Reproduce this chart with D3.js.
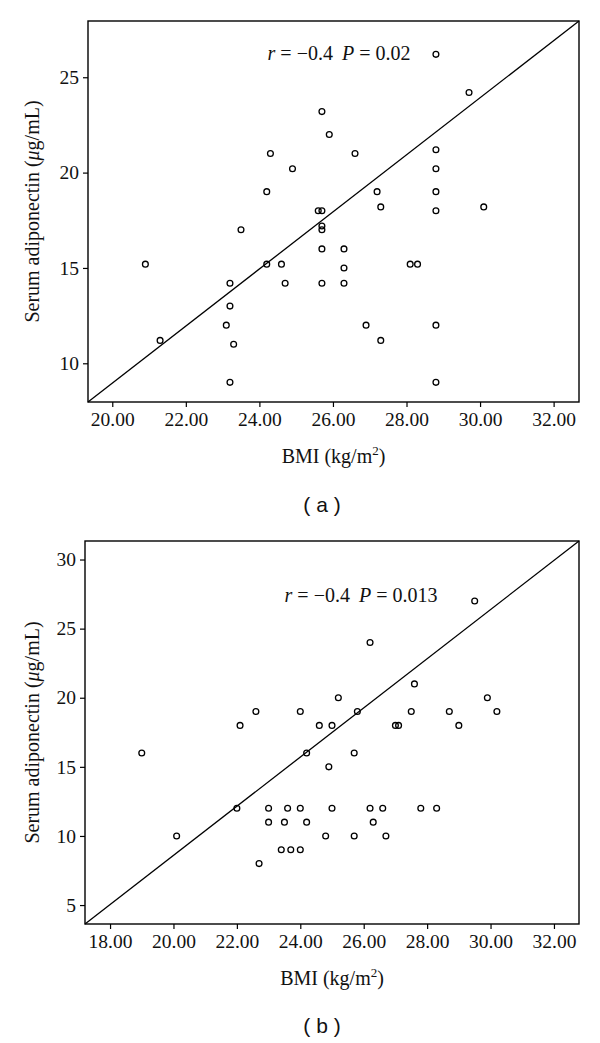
<!DOCTYPE html>
<html>
<head>
<meta charset="utf-8">
<script src="https://cdn.jsdelivr.net/npm/d3@7/dist/d3.min.js"></script>
<style>
  html, body { margin: 0; padding: 0; background: #fff; }
  svg { display: block; }
</style>
</head>
<body>
<svg id="chart" width="600" height="1043"></svg>
<script>
// ---- Panel (a) data ----
const bmiA = [28.8, 29.7, 25.7, 25.9, 24.3, 26.6, 28.8, 24.9, 28.8, 24.2, 27.2, 28.8,
  27.3, 30.1, 28.8, 25.6, 25.7, 23.5, 25.7, 25.7, 25.7, 26.3, 20.9, 24.2, 24.6,
  28.1, 28.3, 26.3, 23.2, 24.7, 25.7, 26.3, 23.2, 23.1, 26.9, 28.8, 21.3, 27.3,
  23.3, 23.2, 28.8];
const adipoA = [26.2, 24.2, 23.2, 22.0, 21.0, 21.0, 21.2, 20.2, 20.2, 19.0, 19.0, 19.0,
  18.2, 18.2, 18.0, 18.0, 18.0, 17.0, 17.2, 17.0, 16.0, 16.0, 15.2, 15.2, 15.2,
  15.2, 15.2, 15.0, 14.2, 14.2, 14.2, 14.2, 13.0, 12.0, 12.0, 12.0, 11.2, 11.2,
  11.0, 9.0, 9.0];
const xTicksA = [20, 22, 24, 26, 28, 30, 32];
const yTicksA = [10, 15, 20, 25];
const xDomainA = [19.34, 32.69];
const yDomainA = [7.97, 27.95];
const statA = { r: "\u22120.4", p: "0.02" };

// ---- Panel (b) data ----
const bmiB = [29.5, 26.2, 27.6, 25.2, 29.9, 22.6, 24.0, 25.8, 27.5, 28.7, 30.2,
  22.1, 24.6, 25.0, 27.0, 27.1, 29.0, 19.0, 24.2, 25.7, 24.9,
  22.0, 23.0, 23.6, 24.0, 25.0, 26.2, 26.6, 27.8, 28.3,
  23.0, 23.5, 24.2, 26.3, 20.1, 24.8, 25.7, 26.7, 23.4, 23.7, 24.0, 22.7];
const adipoB = [27.0, 24.0, 21.0, 20.0, 20.0, 19.0, 19.0, 19.0, 19.0, 19.0, 19.0,
  18.0, 18.0, 18.0, 18.0, 18.0, 18.0, 16.0, 16.0, 16.0, 15.0,
  12.0, 12.0, 12.0, 12.0, 12.0, 12.0, 12.0, 12.0, 12.0,
  11.0, 11.0, 11.0, 11.0, 10.0, 10.0, 10.0, 10.0, 9.0, 9.0, 9.0, 8.0];
const xTicksB = [18, 20, 22, 24, 26, 28, 30, 32];
const yTicksB = [5, 10, 15, 20, 25, 30];
const xDomainB = [17.21, 32.79];
const yDomainB = [3.63, 31.34];
const statB = { r: "\u22120.4", p: "0.013" };

const panelLabels = ["( a )", "( b )"];

const serif = "'Liberation Serif', 'DejaVu Serif', serif";
const sans = "'Liberation Sans', Arial, sans-serif";

const svg = d3.select("#chart");

function drawPanel(cfg) {
  const { box, xs, ys, xTicks, yTicks, xDomain, yDomain, stat, label, statPos, titleY, captionY } = cfg;
  const g = svg.append("g");
  const x = d3.scaleLinear().domain(xDomain).range([box.x0, box.x1]);
  const y = d3.scaleLinear().domain(yDomain).range([box.y1, box.y0]);

  // axes
  const xAxis = g.append("g")
    .attr("transform", `translate(0,${box.y1})`)
    .call(d3.axisBottom(x).tickValues(xTicks).tickFormat(d3.format(".2f")).tickSize(5).tickPadding(5));
  const yAxis = g.append("g")
    .attr("transform", `translate(${box.x0},0)`)
    .call(d3.axisLeft(y).tickValues(yTicks).tickFormat(d3.format("d")).tickSize(5).tickPadding(4));
  [xAxis, yAxis].forEach(a => {
    a.select(".domain").remove();
    a.selectAll(".tick line").attr("stroke", "#000").attr("stroke-width", 1.2);
    a.selectAll(".tick text").attr("fill", "#111").style("font-family", serif).style("font-size", "19.5px");
  });

  // diagonal reference line (corner to corner)
  g.append("line")
    .attr("x1", x(xDomain[0])).attr("y1", y(yDomain[0]))
    .attr("x2", x(xDomain[1])).attr("y2", y(yDomain[1]))
    .attr("stroke", "#000").attr("stroke-width", 1.3);

  // points
  g.append("g").selectAll("circle")
    .data(xs.map((v, i) => [v, ys[i]]))
    .join("circle")
    .attr("cx", d => x(d[0]))
    .attr("cy", d => y(d[1]))
    .attr("r", 2.9)
    .attr("fill", "none")
    .attr("stroke", "#000")
    .attr("stroke-width", 1.3);

  // frame
  g.append("rect")
    .attr("x", box.x0).attr("y", box.y0)
    .attr("width", box.x1 - box.x0).attr("height", box.y1 - box.y0)
    .attr("fill", "none").attr("stroke", "#000").attr("stroke-width", 1.4);

  // stat annotation
  const t = g.append("text")
    .attr("x", statPos[0]).attr("y", statPos[1])
    .attr("text-anchor", "middle")
    .style("font-family", serif).style("font-size", "20px").attr("fill", "#111");
  t.append("tspan").style("font-style", "italic").text("r");
  t.append("tspan").text("\u00a0=\u00a0" + stat.r);
  t.append("tspan").attr("dx", 9).style("font-style", "italic").text("P");
  t.append("tspan").text("\u00a0=\u00a0" + stat.p);

  // x title
  const xt = g.append("text")
    .attr("x", (box.x0 + box.x1) / 2).attr("y", titleY)
    .attr("text-anchor", "middle")
    .style("font-family", serif).style("font-size", "20px").attr("fill", "#111");
  xt.append("tspan").text("BMI (kg/m");
  xt.append("tspan").attr("dy", -8).style("font-size", "13px").text("2");
  xt.append("tspan").attr("dy", 8).text(")");

  // y title
  const cy = (box.y0 + box.y1) / 2;
  const yt = g.append("text")
    .attr("transform", `translate(39,${cy}) rotate(-90)`)
    .attr("text-anchor", "middle")
    .style("font-family", serif).style("font-size", "20px").attr("fill", "#111");
  yt.append("tspan").text("Serum adiponectin (");
  yt.append("tspan").style("font-style", "italic").text("\u03bc");
  yt.append("tspan").text("g/mL)");

  // caption
  svg.append("text")
    .attr("x", 322).attr("y", captionY)
    .attr("text-anchor", "middle")
    .style("font-family", sans).style("font-size", "21px").attr("fill", "#111")
    .style("white-space", "pre")
    .text(label);
}

drawPanel({
  box: { x0: 88, x1: 579, y0: 21, y1: 402 },
  xs: bmiA, ys: adipoA, xTicks: xTicksA, yTicks: yTicksA,
  xDomain: xDomainA, yDomain: yDomainA, stat: statA,
  label: panelLabels[0], statPos: [339, 60], titleY: 463, captionY: 512
});
drawPanel({
  box: { x0: 85, x1: 579, y0: 541, y1: 924 },
  xs: bmiB, ys: adipoB, xTicks: xTicksB, yTicks: yTicksB,
  xDomain: xDomainB, yDomain: yDomainB, stat: statB,
  label: panelLabels[1], statPos: [361, 602], titleY: 985, captionY: 1033
});
</script>
</body>
</html>
